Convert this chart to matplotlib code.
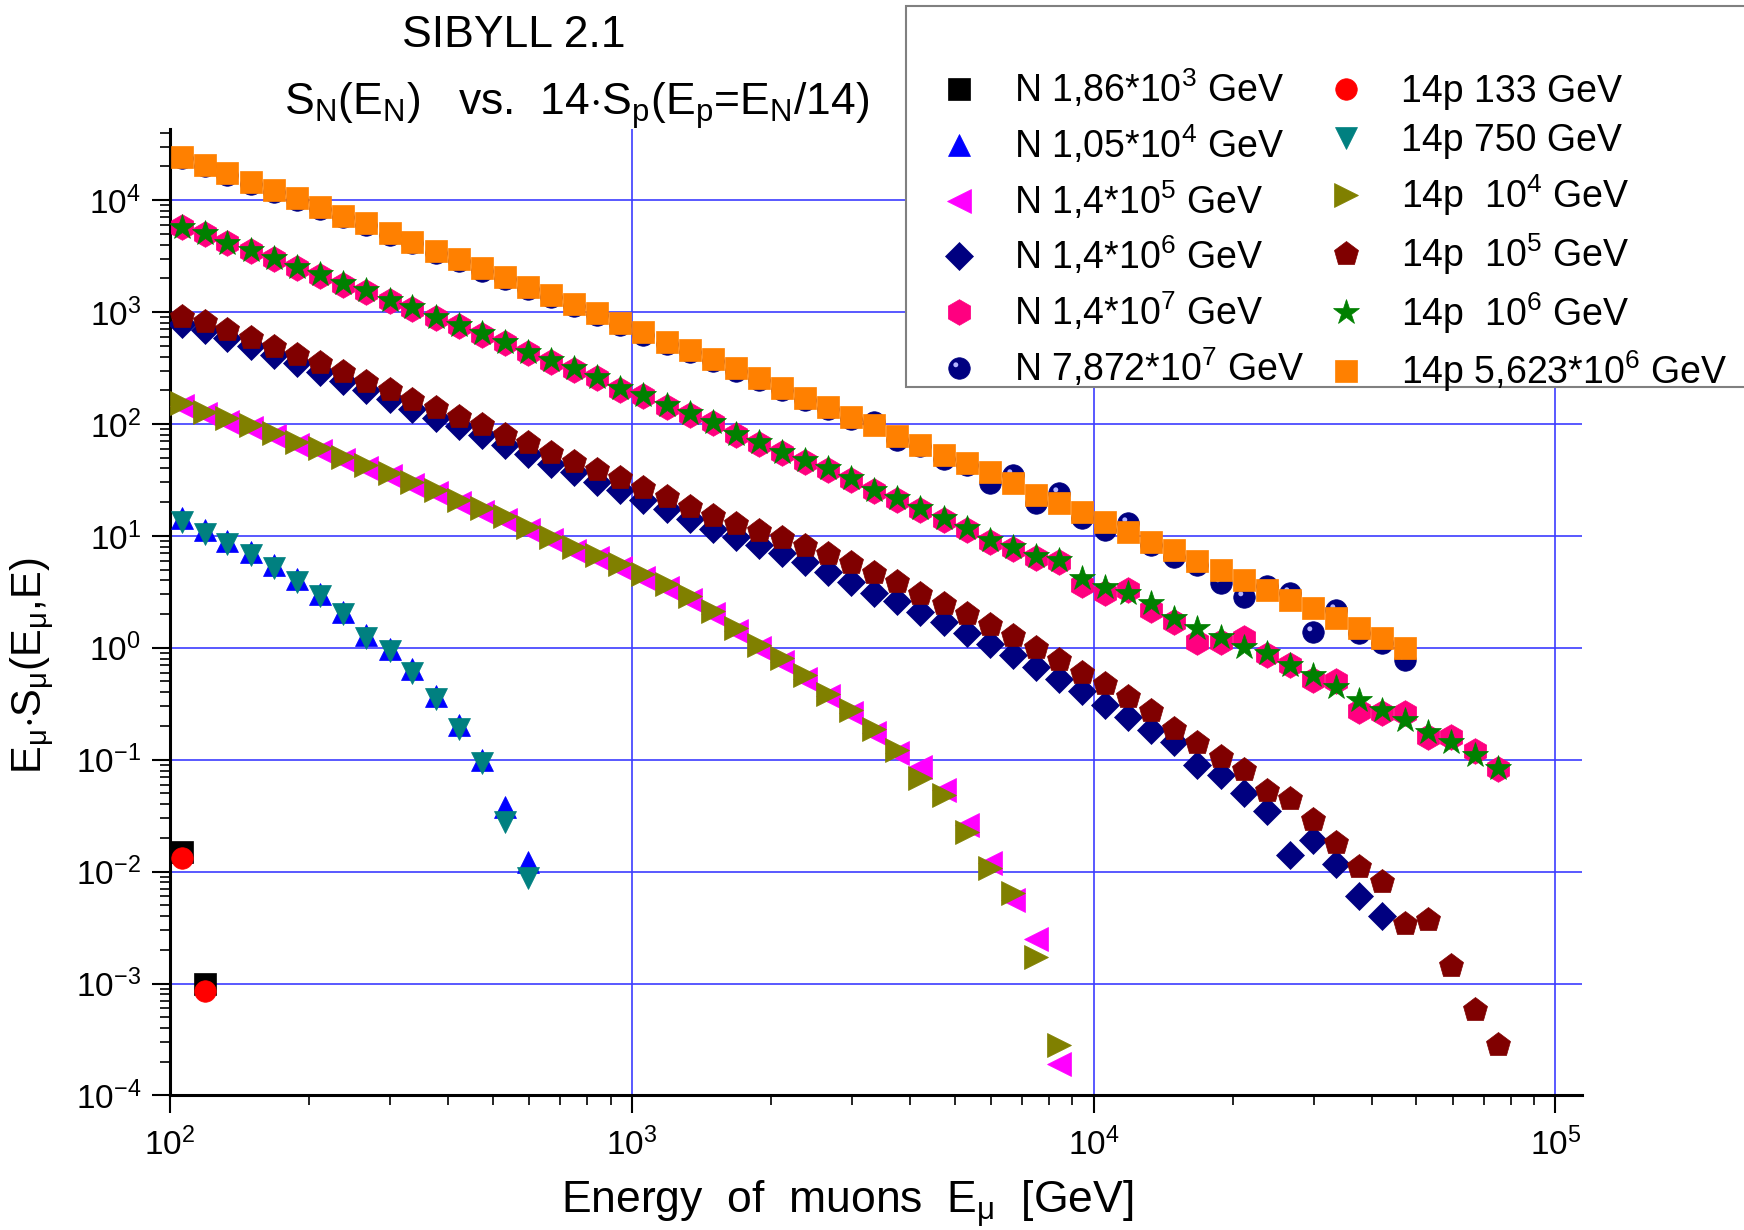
import matplotlib
matplotlib.use('Agg')
import matplotlib.pyplot as plt
from matplotlib.patches import Rectangle
from matplotlib.legend_handler import HandlerTuple
from matplotlib.ticker import LogLocator, NullFormatter
from matplotlib.path import Path

plt.rcParams['font.family'] = ['Liberation Sans', 'DejaVu Sans']
plt.rcParams['mathtext.fontset'] = 'custom'
plt.rcParams['mathtext.rm'] = 'Liberation Sans'
plt.rcParams['mathtext.it'] = 'Liberation Sans:italic'
plt.rcParams['mathtext.bf'] = 'Liberation Sans:bold'

# muon energy bins (GeV), 0.05 decade wide
E_mu = [106, 119, 133, 150, 168, 188, 211, 237, 266, 299,
        335, 376, 422, 473, 531, 596, 668, 750, 841, 944,
        1059, 1189, 1334, 1496, 1679, 1884, 2113, 2371, 2661, 2985,
        3350, 3758, 4217, 4732, 5309, 5957, 6683, 7499, 8414, 9441,
        10593, 11885, 13335, 14962, 16788, 18836, 21135, 23714, 26607, 29854,
        33497, 37584, 42170, 47315, 53088, 59566, 66834, 74989]

# nuclei N
N_186e3 = [0.015, 0.001]
N_105e4 = [14.5, 11.2, 9.0, 7.2, 5.5, 4.1, 3.0, 2.1, 1.3, 0.98,
           0.64, 0.37, 0.205, 0.1, 0.038, 0.0122]
N_14e5 = [145, 122, 105, 92, 78, 65, 57, 48, 40.5, 34,
          28.5, 24, 19.5, 16.5, 13.8, 11.2, 9.1, 7.4, 6.3, 5.2,
          4.2, 3.4, 2.7, 2.0, 1.4, 1.0, 0.75, 0.53, 0.37, 0.26,
          0.175, 0.115, 0.086, 0.054, 0.026, 0.012, 0.0056, 0.0025, 0.00019]
N_14e6 = [780, 690, 585, 495, 415, 350, 293, 243, 200, 168,
          137, 114, 95, 80, 65, 54, 44, 37, 30.5, 25.5,
          20.8, 17.3, 14.1, 11.6, 9.8, 8.3, 7.0, 5.8, 4.8, 3.9,
          3.1, 2.6, 2.1, 1.7, 1.36, 1.08, 0.86, 0.68, 0.53, 0.41,
          0.31, 0.24, 0.184, 0.145, 0.090, 0.073, 0.050, 0.035, 0.014, 0.019,
          0.0117, 0.006, 0.004]
N_14e7 = [5.7e3, 4.95e3, 4.1e3, 3.5e3, 2.95e3, 2.5e3, 2.12e3, 1.76e3, 1.52e3, 1.25e3,
          1.07e3, 880, 745, 625, 525, 430, 360, 305, 255, 202,
          176, 143, 121, 101, 80, 66, 55, 46, 38.5, 31.5,
          25, 21, 17, 13.8, 11.2, 8.9, 7.6, 6.3, 5.9, 3.64,
          3.07, 3.3, 2.18, 1.71, 1.13, 1.13, 1.22, 0.86, 0.70, 0.52,
          0.50, 0.27, 0.26, 0.26, 0.16, 0.16, 0.12, 0.082]
N_7872e7 = [2.4e4, 2.0e4, 1.68e4, 1.4e4, 1.18e4, 1.0e4, 8.4e3, 7.0e3, 5.95e3, 4.9e3,
            4.1e3, 3.4e3, 2.85e3, 2.35e3, 1.96e3, 1.62e3, 1.36e3, 1.13e3, 935, 770,
            630, 520, 440, 362, 300, 245, 200, 163, 137, 111,
            104, 72, 63, 49, 43, 29.5, 35, 19.5, 24, 14.4,
            11.3, 13.0, 8.3, 6.5, 5.5, 3.77, 2.87, 3.6, 3.1, 1.39,
            2.18, 1.36, 1.1, 0.78]

# 14 x proton
P_133 = [0.0132, 0.00085]
P_750 = [13.4, 10.5, 8.4, 6.7, 5.2, 3.9, 2.9, 2.0, 1.22, 0.93,
         0.6, 0.35, 0.19, 0.093, 0.028, 0.0087]
P_1e4 = [153, 129, 112, 98, 83, 69.5, 60.7, 51, 43, 36.3,
         30.5, 25.7, 20.9, 17.7, 14.9, 12.1, 9.8, 8.0, 6.8, 5.6,
         4.6, 3.7, 2.9, 2.15, 1.5, 1.06, 0.805, 0.57, 0.39, 0.28,
         0.19, 0.122, 0.068, 0.048, 0.0227, 0.0107, 0.0064, 0.00173, 0.00028]
P_1e5 = [910, 821, 692, 583, 491, 414, 349, 290, 239, 201,
         164, 138, 116, 98, 80, 67, 55, 46, 38.8, 32.7,
         26.6, 22.4, 18.2, 15.2, 12.8, 11.0, 9.5, 8.1, 6.9, 5.7,
         4.7, 3.9, 3.05, 2.45, 2.0, 1.6, 1.28, 1.0, 0.78, 0.6,
         0.47, 0.36, 0.27, 0.19, 0.14, 0.106, 0.081, 0.053, 0.045, 0.029,
         0.018, 0.011, 0.008, 0.0034, 0.0037, 0.00144, 0.00058, 0.00028]
P_1e6 = [5.8e3, 5.06e3, 4.17e3, 3.59e3, 3.03e3, 2.55e3, 2.19e3, 1.81e3, 1.58e3, 1.28e3,
         1.1e3, 910, 767, 646, 544, 443, 373, 315, 265, 208,
         182, 148, 125, 105, 82, 69.5, 56.6, 47.7, 40.1, 32.7,
         25.7, 21.7, 17.7, 14.4, 11.7, 9.2, 7.9, 6.6, 6.1, 4.2,
         3.5, 3.07, 2.5, 1.84, 1.49, 1.26, 1.02, 0.89, 0.70, 0.57,
         0.45, 0.34, 0.28, 0.226, 0.178, 0.145, 0.110, 0.084]
P_5623e6 = [2.45e4, 2.07e4, 1.74e4, 1.46e4, 1.23e4, 1.04e4, 8.75e3, 7.27e3, 6.22e3, 5.13e3,
            4.26e3, 3.54e3, 2.96e3, 2.46e3, 2.05e3, 1.69e3, 1.42e3, 1.18e3, 975, 804,
            659, 545, 459, 378, 318, 255, 208, 170, 143, 116,
            98, 78, 65, 53, 44.5, 37.5, 29.5, 23.2, 19.5, 16.5,
            13.4, 10.9, 8.9, 7.5, 6.0, 4.95, 4.03, 3.29, 2.67, 2.25,
            1.84, 1.49, 1.22, 0.99]

N_labels = [r'N 1,86*10$^\mathregular{3}$ GeV', r'N 1,05*10$^\mathregular{4}$ GeV',
            r'N 1,4*10$^\mathregular{5}$ GeV', r'N 1,4*10$^\mathregular{6}$ GeV',
            r'N 1,4*10$^\mathregular{7}$ GeV', r'N 7,872*10$^\mathregular{7}$ GeV']
P_labels = ['14p 133 GeV', '14p 750 GeV',
            r'14p  10$^\mathregular{4}$ GeV', r'14p  10$^\mathregular{5}$ GeV',
            r'14p  10$^\mathregular{6}$ GeV', r'14p 5,623*10$^\mathregular{6}$ GeV']

fig = plt.figure(figsize=(17.44, 12.30), dpi=100)
ax = fig.add_axes([0.0975, 0.1094, 0.8094, 0.7858])


def draw(vals, marker, color, ms, zorder):
    line, = ax.plot(E_mu[:len(vals)], vals, ls='none', marker=marker, color=color,
                    ms=ms, mec=color, mew=0.5, zorder=zorder)
    return line


# N series first, the 14p series sit on top
hN = [draw(N_186e3, 's', 'black', 16, 3),
      draw(N_105e4, '^', '#0000ff', 16.5, 3),
      draw(N_14e5, '<', '#ff00ff', 17.5, 3),
      draw(N_14e6, 'D', '#000080', 14, 3),
      draw(N_14e7, 'h', '#ff0080', 18.5, 3)]
sphere = draw(N_7872e7, 'o', '#000080', 15.5, 3)
# little highlight to get the shaded-ball look
hl_path = Path.circle((-0.3, 0.3), 0.2)
shine = draw(N_7872e7, hl_path, '#b4b4ff', 8.9, 3.1)
shine.set_markeredgewidth(0)
hN.append((sphere, shine))

hP = [draw(P_133, 'o', '#ff0000', 15.5, 4),
      draw(P_750, 'v', '#008080', 16.5, 4),
      draw(P_1e4, '>', '#808000', 17.5, 4),
      draw(P_1e5, 'p', '#800000', 18.5, 4),
      draw(P_1e6, '*', '#008000', 19, 4),
      draw(P_5623e6, 's', '#ff8000', 16, 4)]

ax.set_xscale('log')
ax.set_yscale('log')
ax.set_xlim(100, 1.14e5)
ax.set_ylim(1e-4, 4.33e4)

for s in ['top', 'right']:
    ax.spines[s].set_visible(False)
for s in ['left', 'bottom']:
    ax.spines[s].set_linewidth(2.2)

ax.xaxis.set_major_locator(LogLocator(base=10, numticks=20))
ax.yaxis.set_major_locator(LogLocator(base=10, numticks=20))
ax.xaxis.set_minor_locator(LogLocator(base=10, subs=range(2, 10), numticks=100))
ax.yaxis.set_minor_locator(LogLocator(base=10, subs=range(2, 10), numticks=100))
ax.xaxis.set_minor_formatter(NullFormatter())
ax.yaxis.set_minor_formatter(NullFormatter())
ax.tick_params(which='major', direction='out', length=13, width=1.5, labelsize=24)
ax.tick_params(which='minor', direction='out', length=7, width=1.2)
ax.tick_params(axis='y', which='major', pad=8)
ax.tick_params(axis='x', which='major', pad=10)

ax.set_axisbelow(True)
ax.grid(True, which='major', color='#3c3cff', lw=1.2)

# titles and axis labels
fig.text(0.2947, 0.962, 'SIBYLL 2.1', fontsize=32, ha='center', va='baseline')
fig.text(0.163, 0.907,
         r'S$_\mathregular{N}$(E$_\mathregular{N}$)   vs.  14$\cdot$S$_\mathregular{p}$'
         r'(E$_\mathregular{p}$=E$_\mathregular{N}$/14)',
         fontsize=32, ha='left', va='baseline')
fig.text(0.486, 0.013, r'Energy  of  muons  E$_\mathregular{\mu}$  [GeV]',
         fontsize=32, ha='center', va='baseline')
fig.text(0.019, 0.459, r'E$_\mathregular{\mu}$$\cdot$S$_\mathregular{\mu}$(E$_\mathregular{\mu}$,E)',
         fontsize=30, rotation=90, ha='center', va='center')

# legend box (it runs off the right edge of the figure)
fig.patches.append(Rectangle((0.5195, 0.6854), 0.6, 0.3096, transform=fig.transFigure,
                             facecolor='white', edgecolor='#808080', lw=1.5, zorder=2))
leg = fig.legend(hN + hP, N_labels + P_labels, ncol=2, loc='upper left',
                 bbox_to_anchor=(0.539, 0.945), bbox_transform=fig.transFigure,
                 frameon=False, fontsize=27, handlelength=1.0, handletextpad=0.98,
                 columnspacing=0.6, labelspacing=0.35, borderpad=0, borderaxespad=0,
                 handler_map={tuple: HandlerTuple(ndivide=1)})
leg.set_zorder(5)

fig.savefig('out.png', dpi=100)
